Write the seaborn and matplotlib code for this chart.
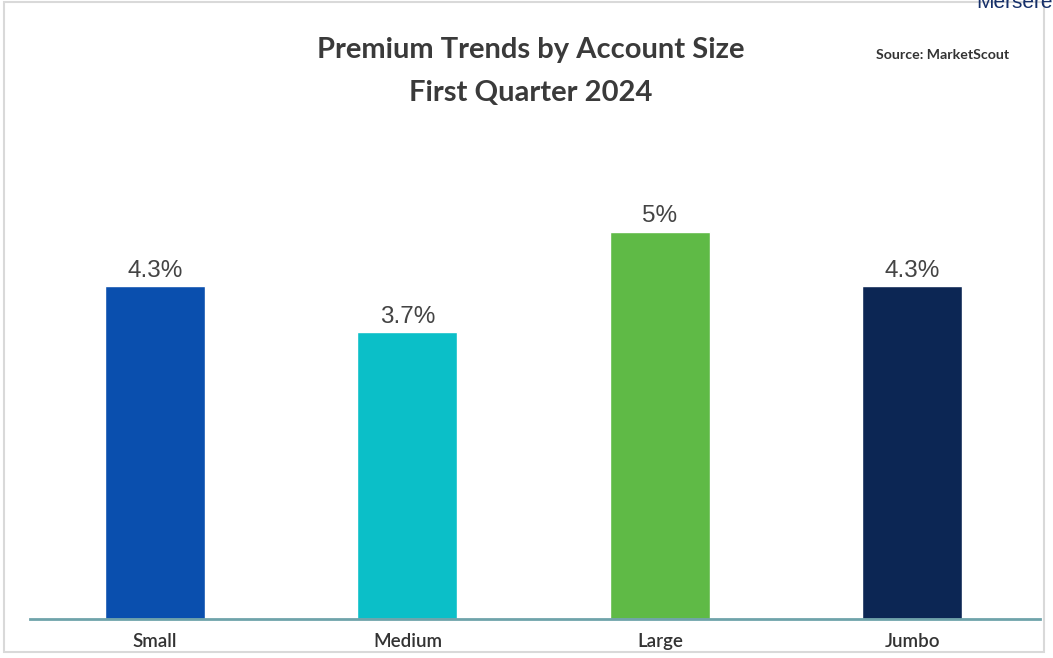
import matplotlib
matplotlib.use("Agg")
import matplotlib.pyplot as plt
import seaborn as sns
import pandas as pd
from matplotlib.patches import Rectangle

# Premium change by account size, Q1 2024
categories = ["Small", "Medium", "Large", "Jumbo"]
values = [4.3, 3.7, 5.0, 4.3]
value_labels = ["4.3%", "3.7%", "5%", "4.3%"]
bar_colors = ["#0a4fae", "#0bbfc8", "#5fba46", "#0c2654"]

title_lines = ["Premium Trends by Account Size", "First Quarter 2024"]
source_text = "Source: MarketScout"

sns.set_theme(style="white")
plt.rcParams["font.family"] = ["Lato", "DejaVu Sans"]

df = pd.DataFrame({"size": categories, "change": values})

W, H = 1053, 658
fig = plt.figure(figsize=(W / 100, H / 100), dpi=100)
fig.patch.set_facecolor("white")

# thin grey frame around the panel
fig.add_artist(Rectangle((4 / W, 1 - 652 / H), 1040 / W, 650 / H,
                         transform=fig.transFigure, fill=False,
                         edgecolor="#d9d9d9", linewidth=1.5))

ax = fig.add_axes([30 / W, 1 - 619 / H, 1010 / W, 489 / H])
sns.barplot(data=df, x="size", y="change", hue="size",
            palette=bar_colors, order=categories, hue_order=categories,
            width=0.396, saturation=1, legend=False, ax=ax)

ax.set_xlim(-0.495, 3.505)
ax.set_ylim(0, 6.31)
ax.set_xlabel("")
ax.set_ylabel("")
ax.set_yticks([])
for side in ["top", "right", "left"]:
    ax.spines[side].set_visible(False)
ax.spines["bottom"].set_color("#6fa3aa")
ax.spines["bottom"].set_linewidth(2)
ax.tick_params(axis="x", length=0, pad=10, labelsize=13.5, labelcolor="#333333")
for lbl in ax.get_xticklabels():
    lbl.set_fontweight("semibold")

for i, (v, t) in enumerate(zip(values, value_labels)):
    ax.annotate(t, (i, v), xytext=(0, 3), textcoords="offset points",
                ha="center", va="bottom", fontsize=17.5,
                family=["Liberation Sans", "DejaVu Sans"], color="#444444")

fig.text(531 / W, 1 - 50 / H, title_lines[0], ha="center", va="center",
         fontsize=21, fontweight="bold", color="#3a3a3a")
fig.text(531 / W, 1 - 93 / H, title_lines[1], ha="center", va="center",
         fontsize=21, fontweight="bold", color="#3a3a3a")
fig.text(943 / W, 1 - 55 / H, source_text, ha="center", va="center",
         fontsize=10.2, fontweight="bold", color="#333333")
fig.text(1053 / W, 1 - 8 / H, "Mersere", ha="right", va="baseline",
         fontsize=15, color="#16306a",
         family=["Liberation Sans", "DejaVu Sans"])

fig.savefig("out.png", dpi=100, facecolor="white")
